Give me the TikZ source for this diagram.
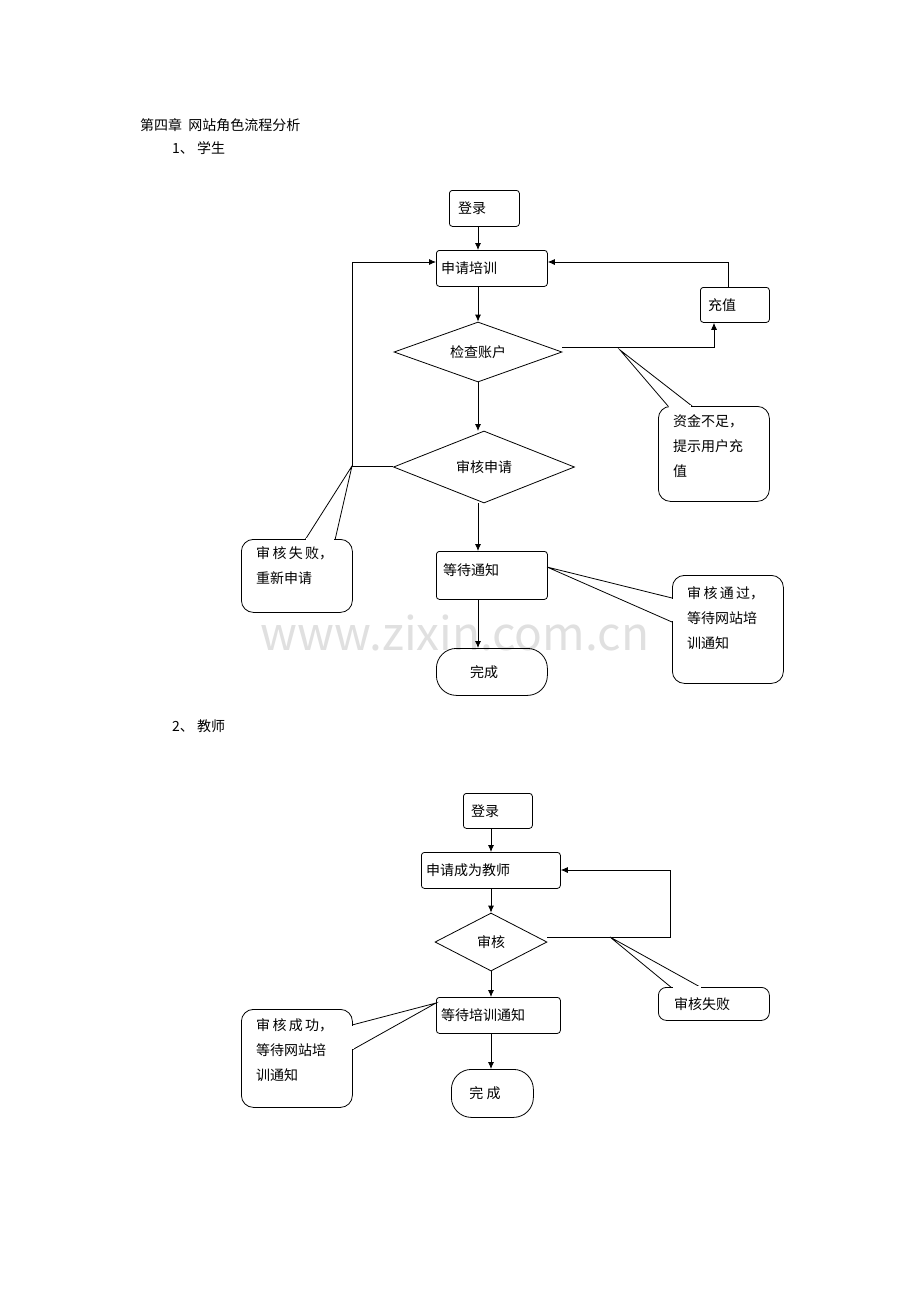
\documentclass[tikz,border=0pt]{standalone}
\usepackage{fontspec}
\setmainfont{Noto Sans CJK SC}
\usetikzlibrary{shapes.geometric,arrows.meta}
\begin{document}
\begin{tikzpicture}[x=1pt,y=-1pt,font=\fontsize{14}{22}\selectfont,
 box/.style={draw,thick,rounded corners=3pt,anchor=north west,inner sep=0pt},
 dia/.style={draw,thick,diamond,inner sep=0pt},
 pill/.style={draw,thick,rounded corners=20pt,anchor=north west,inner sep=0pt},
 arr/.style={thick,-{Latex[length=7pt,width=6pt]}},
 lin/.style={thick},
 call/.style={draw,thick,fill=white,rounded corners=12pt},
 ctext/.style={anchor=north west,align=left,inner sep=0pt,font=\fontsize{14}{25}\selectfont}]
\fill[white] (0,0) rectangle (920,1302);
\node[anchor=west,inner sep=0pt] (t1) at (140,125) {第四章\ \ 网站角色流程分析};
\node[anchor=west,inner sep=0pt] (t2) at (172,148) {1、\ 学生};
\node[anchor=west,inner sep=0pt] (t3) at (172,726) {2、\ 教师};
\node[text=black!12,font=\fontsize{46}{46}\selectfont,inner sep=0pt] (wm) at (455,633) {www.zixin.com.cn};
% student
\node[box,minimum width=70,minimum height=36] (dl) at (449,190) {};
\node[anchor=west,inner sep=0pt] at (458,208) {登录};
\node[box,minimum width=111,minimum height=36] (sq) at (436,250) {};
\node[anchor=west,inner sep=0pt] at (441,268) {申请培训};
\node[box,minimum width=69,minimum height=35] (cz) at (700,287) {};
\node[anchor=west,inner sep=0pt] at (708,305) {充值};
\node[dia,minimum width=168,minimum height=60,aspect=2.8] (jc) at (478,352) {检查账户};
\node[dia,minimum width=181,minimum height=72,aspect=2.5] (sh) at (484,467) {审核申请};
\node[box,minimum width=111,minimum height=48] (dd) at (436,551) {};
\node[anchor=west,inner sep=0pt] at (443,570) {等待通知};
\node[pill,minimum width=111,minimum height=47] (wc) at (436,648) {};
\node at (484,672) {完成};
\coordinate (c1) at (714,347); \coordinate (c2) at (728,262);
\coordinate (c3) at (352,466); \coordinate (c4) at (352,262);
\coordinate (c0) at (478,226);
\draw[arr] (c0) -- (c0|-sq.north);
\draw[arr] (478,286) -- (jc.north);
\draw[arr] (jc.south) -- (478,431);
\draw[arr] (478,503) -- (478,551);
\draw[arr] (478,599) -- (478,648);
\draw[arr] (jc.east|-c1) -- (c1) -- (cz.south-|c1);
\draw[arr] (cz.north-|c2) -- (c2) -- (sq.east|-c2);
\draw[arr] (sh.west|-c3) -- (c3) -- (c4) -- (sq.west|-c4);
% callouts student
\draw[lin,fill=white] (668,406) -- (620,350) -- (692,406);
\node[call,minimum width=111,minimum height=95,anchor=north west] (k1) at (658,406) {};
\fill[white] (669,404.5) rectangle (691,407.5);
\node[ctext] at (673,414) {资金不足，\\提示用户充\\值};
\draw[lin,fill=white] (305,540) -- (c3) -- (335,540);
\node[call,minimum width=111,minimum height=73,anchor=north west] (k2) at (241,539) {};
\fill[white] (306,537.5) rectangle (334,541);
\node[ctext] at (256,546) {审\,核\,失\,败，\\重新申请};
\draw[lin,fill=white] (672,598) -- (547,567) -- (672,622);
\node[call,minimum width=111,minimum height=108,anchor=north west] (k3) at (672,575) {};
\fill[white] (670.5,599) rectangle (674,621);
\node[ctext] at (687,586) {审\,核\,通\,过，\\等待网站培\\训通知};
% teacher
\node[box,minimum width=69,minimum height=35] (dl2) at (463,793) {};
\node[anchor=west,inner sep=0pt] at (471,811) {登录};
\node[box,minimum width=139,minimum height=36] (sq2) at (421,852) {};
\node[anchor=west,inner sep=0pt] at (426,870) {申请成为教师};
\node[dia,minimum width=112,minimum height=58,aspect=2.1] (sh2) at (491,942) {审核};
\node[box,minimum width=124,minimum height=36] (dd2) at (436,997) {};
\node[anchor=west,inner sep=0pt] at (441,1015) {等待培训通知};
\node[pill,minimum width=82,minimum height=48] (wc2) at (451,1069) {};
\node at (485,1093) {完\ 成};
\coordinate (d1) at (670,937); \coordinate (d2) at (670,870);
\draw[arr] (491,828) -- (491,852);
\draw[arr] (491,888) -- (sh2.north);
\draw[arr] (sh2.south) -- (491,997);
\draw[arr] (491,1033) -- (491,1069);
\draw[arr] (sh2.east|-d1) -- (d1) -- (d2) -- (sq2.east|-d2);
\draw[lin,fill=white] (672,988) -- (610,937) -- (702,988);
\node[call,minimum width=111,minimum height=33,rounded corners=8pt,anchor=north west] (k4) at (658,987) {};
\fill[white] (673,985.5) rectangle (701,989);
\node[anchor=west,inner sep=0pt] at (674,1004) {审核失败};
\draw[lin,fill=white] (352,1025) -- (436,1003) -- (352,1050);
\node[call,minimum width=111,minimum height=98,anchor=north west] (k5) at (241,1009) {};
\fill[white] (350,1026) rectangle (353.5,1049);
\node[ctext] at (256,1018) {审\,核\,成\,功，\\等待网站培\\训通知};
\end{tikzpicture}
\end{document}
